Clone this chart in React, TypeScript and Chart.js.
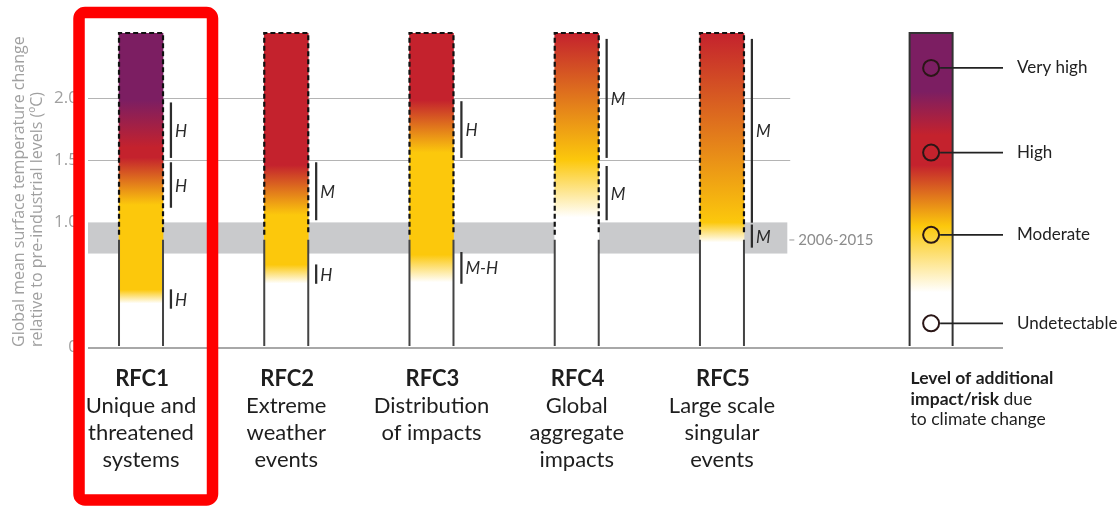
import React, { useEffect, useRef } from 'react';
import { Chart, registerables } from 'chart.js';

Chart.register(...registerables);

const FONT = 'Lato, "Open Sans", sans-serif';
const AXIS_FONT = '"Open Sans", Lato, sans-serif';

// ---------------- data ----------------
const rfcCodes = ['RFC1', 'RFC2', 'RFC3', 'RFC4', 'RFC5'];
const rfcNames = [
  ['Unique and', 'threatened', 'systems'],
  ['Extreme', 'weather', 'events'],
  ['Distribution', 'of impacts'],
  ['Global', 'aggregate', 'impacts'],
  ['Large scale', 'singular', 'events'],
];
const emberPositions = [1, 2, 3, 4, 5];
const emberTop = 2.52;
const presentDay = 0.9;

// [temperature °C, risk level]  level: 0 undetectable, 1 moderate, 2 high, 3 very high
const rfc1Transitions = [[0.35, 0], [0.46, 1], [1.14, 1], [1.52, 2], [1.6, 2], [1.98, 3]];
const rfc2Transitions = [[0.51, 0], [0.66, 1], [1.06, 1], [1.46, 2]];
const rfc3Transitions = [[0.52, 0], [0.74, 1], [1.56, 1], [1.98, 2]];
const rfc4Transitions = [[1.04, 0], [1.5, 1], [2.52, 2]];
const rfc5Transitions = [[0.84, 0], [1.0, 1], [2.52, 2]];
const legendTransitions = [[0.44, 0], [0.97, 1], [1.46, 2], [1.7, 2], [2.05, 3]];

// [from °C, to °C, confidence]
const rfc1Confidence = [[1.52, 1.96, 'H'], [1.12, 1.48, 'H'], [0.31, 0.46, 'H']];
const rfc2Confidence = [[1.02, 1.48, 'M'], [0.51, 0.66, 'H']];
const rfc3Confidence = [[1.52, 1.97, 'H'], [0.51, 0.76, 'M-H']];
const rfc4Confidence = [[1.52, 2.47, 'M'], [1.02, 1.45, 'M']];
const rfc5Confidence = [[1.0, 2.47, 'M'], [0.8, 0.98, 'M']];

const riskLevels = ['Very high', 'High', 'Moderate', 'Undetectable'];
const riskMarkerValues = [2.24, 1.56, 0.9, 0.19];
const legendPosition = 6.44;
const legendCaption = ['Level of additional', 'impact/risk due', 'to climate change'];

const yTickValues = [0, 1, 1.5, 2];
const referenceLines = [1.5, 2.0];
const observedBand = [0.75, 1.0];
const observedLabel = '2006-2015';
const yTitle = ['Global mean surface temperature change', 'relative to pre-industrial levels (ºC)'];

// ---------------- styles ----------------
const levelColors = ['#ffffff', '#fcc80c', '#c4222d', '#7c1e62'];
const allTransitions = [rfc1Transitions, rfc2Transitions, rfc3Transitions, rfc4Transitions, rfc5Transitions];
const allConfidence = [rfc1Confidence, rfc2Confidence, rfc3Confidence, rfc4Confidence, rfc5Confidence];
const confOffset = 0.206;
const xMin = 0.635;
const xMax = 6.935;
const refLineEnd = 5.47;
const bandEnd = 5.45;

function makeGradient(chart: any, transitions: number[][]) {
  const { ctx, chartArea, scales } = chart;
  if (!chartArea) return levelColors[1];
  const y = scales.y;
  const y0 = y.getPixelForValue(0);
  const y1 = y.getPixelForValue(emberTop);
  const g = ctx.createLinearGradient(0, y0, 0, y1);
  transitions.forEach(([t, lvl]) => {
    g.addColorStop(Math.min(1, Math.max(0, t / emberTop)), levelColors[lvl]);
  });
  return g;
}

const decorPlugin = {
  id: 'decor',
  beforeDatasetsDraw(chart: any) {
    const { ctx, chartArea, scales } = chart;
    const x = scales.x, y = scales.y;
    ctx.save();
    // observed band
    const bTop = y.getPixelForValue(observedBand[1]);
    const bBot = y.getPixelForValue(observedBand[0]);
    ctx.fillStyle = '#c9cacc';
    ctx.fillRect(chartArea.left, bTop, x.getPixelForValue(bandEnd) - chartArea.left, bBot - bTop);
    // reference lines
    ctx.strokeStyle = '#b4b4b4';
    ctx.lineWidth = 1;
    referenceLines.forEach((v) => {
      const py = Math.round(y.getPixelForValue(v)) + 0.5;
      ctx.beginPath();
      ctx.moveTo(chartArea.left, py);
      ctx.lineTo(x.getPixelForValue(refLineEnd), py);
      ctx.stroke();
    });
    // baseline
    ctx.strokeStyle = '#a8a8a8';
    ctx.lineWidth = 2;
    const py0 = y.getPixelForValue(0) + 1;
    ctx.beginPath();
    ctx.moveTo(chartArea.left, py0);
    ctx.lineTo(chartArea.right, py0);
    ctx.stroke();
    // band label
    const bMid = (bTop + bBot) / 2 + 2;
    const bx = x.getPixelForValue(bandEnd);
    ctx.strokeStyle = '#9a9a9a';
    ctx.lineWidth = 1;
    ctx.beginPath();
    ctx.moveTo(bx + 2, bMid);
    ctx.lineTo(bx + 7, bMid);
    ctx.stroke();
    ctx.fillStyle = '#8c8c8c';
    ctx.font = `15px ${FONT}`;
    ctx.textBaseline = 'middle';
    ctx.textAlign = 'left';
    ctx.fillText(observedLabel, bx + 11, bMid);
    ctx.restore();
  },
  afterDatasetsDraw(chart: any) {
    const { ctx, chartArea, scales } = chart;
    const x = scales.x, y = scales.y;
    const half = 22;
    ctx.save();
    const yTop = y.getPixelForValue(emberTop);
    const yPres = y.getPixelForValue(presentDay);
    const yZero = y.getPixelForValue(0);
    // ember outlines
    emberPositions.forEach((pos) => {
      const cx = x.getPixelForValue(pos);
      const l = cx - half, r = cx + half;
      ctx.setLineDash([5, 3]);
      ctx.strokeStyle = '#111111';
      ctx.lineWidth = 2.2;
      ctx.beginPath();
      ctx.moveTo(l, yPres); ctx.lineTo(l, yTop); ctx.lineTo(r, yTop); ctx.lineTo(r, yPres);
      ctx.stroke();
      ctx.setLineDash([]);
      ctx.strokeStyle = '#444444';
      ctx.lineWidth = 2;
      ctx.beginPath();
      ctx.moveTo(l, yPres + 5); ctx.lineTo(l, yZero - 1);
      ctx.moveTo(r, yPres + 5); ctx.lineTo(r, yZero - 1);
      ctx.stroke();
    });
    // legend bar outline
    {
      const cx = x.getPixelForValue(legendPosition);
      const l = cx - 21.5, r = cx + 21.5;
      ctx.strokeStyle = '#333333';
      ctx.lineWidth = 2;
      ctx.beginPath();
      ctx.moveTo(l, yZero - 1); ctx.lineTo(l, yTop); ctx.lineTo(r, yTop); ctx.lineTo(r, yZero - 1);
      ctx.stroke();
      // connector lines + labels
      riskMarkerValues.forEach((v, i) => {
        const py = y.getPixelForValue(v);
        ctx.strokeStyle = '#222222';
        ctx.lineWidth = 1.6;
        ctx.beginPath();
        ctx.moveTo(cx + 9, py);
        ctx.lineTo(chartArea.right, py);
        ctx.stroke();
        ctx.fillStyle = '#222222';
        ctx.font = `17px ${FONT}`;
        ctx.textAlign = 'left';
        ctx.textBaseline = 'middle';
        ctx.fillText(riskLevels[i], chartArea.right + 14, py);
      });
      // caption
      const capX = l + 1;
      let by = yZero + 37;
      ctx.textBaseline = 'alphabetic';
      ctx.fillStyle = '#1e1e1e';
      ctx.font = `bold 17.5px ${FONT}`;
      ctx.fillText(legendCaption[0], capX, by);
      by += 20.5;
      const parts = legendCaption[1].split(' ');
      ctx.fillText(parts[0], capX, by);
      const w0 = ctx.measureText(parts[0] + ' ').width;
      ctx.font = `17.5px ${FONT}`;
      ctx.fillText(parts.slice(1).join(' '), capX + w0, by);
      by += 20.5;
      ctx.fillText(legendCaption[2], capX, by);
    }
    // confidence labels
    ctx.fillStyle = '#2a2a2a';
    ctx.font = `italic 17px ${FONT}`;
    ctx.textAlign = 'left';
    ctx.textBaseline = 'middle';
    allConfidence.forEach((list, i) => {
      const px = x.getPixelForValue(emberPositions[i] + confOffset);
      list.forEach(([lo, hi, lab]) => {
        const py = (y.getPixelForValue(lo as number) + y.getPixelForValue(hi as number)) / 2;
        ctx.fillText(lab as string, px + 4, py + 1);
      });
    });
    // category labels
    ctx.textAlign = 'center';
    ctx.textBaseline = 'alphabetic';
    ctx.fillStyle = '#1e1e1e';
    emberPositions.forEach((pos, i) => {
      const cx = x.getPixelForValue(pos);
      let by = yZero + 39;
      ctx.font = `bold 22px ${FONT}`;
      ctx.fillText(rfcCodes[i], cx + 1, by);
      ctx.font = `22px ${FONT}`;
      rfcNames[i].forEach((line) => {
        by += 27;
        ctx.fillText(line, cx, by);
      });
    });
    // highlight box around RFC1
    {
      const cx = x.getPixelForValue(emberPositions[0]);
      ctx.strokeStyle = '#ff0000';
      ctx.lineWidth = 11.5;
      ctx.beginPath();
      (ctx as any).roundRect(cx - 62, 12.5, 133.5, 487.5, 6);
      ctx.stroke();
    }
    ctx.restore();
  },
};

export default function App() {
  const ref = useRef<HTMLCanvasElement>(null);
  useEffect(() => {
    const canvas = ref.current!;
    const confData: any[] = [];
    allConfidence.forEach((list, i) => {
      list.forEach(([lo, hi]) => confData.push({ x: emberPositions[i] + confOffset, y: [lo, hi] }));
    });
    const chart = new Chart(canvas, {
      type: 'bar',
      data: {
        datasets: [
          {
            type: 'scatter',
            label: 'levels',
            data: riskMarkerValues.map((v) => ({ x: legendPosition, y: v })),
            pointRadius: 8,
            pointBorderWidth: 2,
            pointBorderColor: '#2a1616',
            pointBackgroundColor: 'rgba(0,0,0,0)',
            showLine: false,
            order: 0,
          } as any,
          {
            label: 'embers',
            data: emberPositions.map((p) => ({ x: p, y: [0, emberTop] })) as any,
            backgroundColor: (c: any) => makeGradient(c.chart, allTransitions[c.dataIndex] || rfc1Transitions),
            barThickness: 44,
            grouped: false,
            borderWidth: 0,
            order: 2,
          } as any,
          {
            label: 'legend',
            data: [{ x: legendPosition, y: [0, emberTop] }] as any,
            backgroundColor: (c: any) => makeGradient(c.chart, legendTransitions),
            barThickness: 43,
            grouped: false,
            borderWidth: 0,
            order: 2,
          } as any,
          {
            label: 'confidence',
            data: confData,
            backgroundColor: '#2d2d2d',
            barThickness: 1.6,
            grouped: false,
            borderWidth: 0,
            order: 1,
          } as any,
        ],
      },
      options: {
        animation: false,
        responsive: false,
        events: [],
        layout: { padding: { left: 0, right: 117, top: 33, bottom: 159 } },
        plugins: { legend: { display: false }, tooltip: { enabled: false } },
        scales: {
          x: { type: 'linear', min: xMin, max: xMax, display: false, offset: false },
          y: {
            type: 'linear',
            min: 0,
            max: emberTop,
            position: 'left',
            grid: { display: false, drawTicks: false },
            border: { display: false },
            afterBuildTicks: (s: any) => {
              s.ticks = yTickValues.map((v) => ({ value: v }));
            },
            afterFit: (s: any) => {
              s.width = 88;
            },
            ticks: {
              color: '#a0a0a0',
              font: { family: AXIS_FONT, size: 17 },
              padding: 10,
              callback: (v: any) => (Number(v) === 0 ? '0' : Number(v).toFixed(1)),
            },
            title: {
              display: true,
              text: yTitle,
              color: '#a0a0a0',
              font: { family: AXIS_FONT, size: 16, lineHeight: 1.1 },
              align: 'start',
              padding: { top: 11, bottom: 0 },
            },
          } as any,
        },
      },
      plugins: [decorPlugin],
    });
    return () => chart.destroy();
  }, []);
  return (
    <div style={{ position: 'fixed', left: 0, top: 0, width: 1120, height: 506, background: '#ffffff' }}>
      <canvas ref={ref} width={1120} height={506} style={{ width: 1120, height: 506, display: 'block' }} />
    </div>
  );
}
